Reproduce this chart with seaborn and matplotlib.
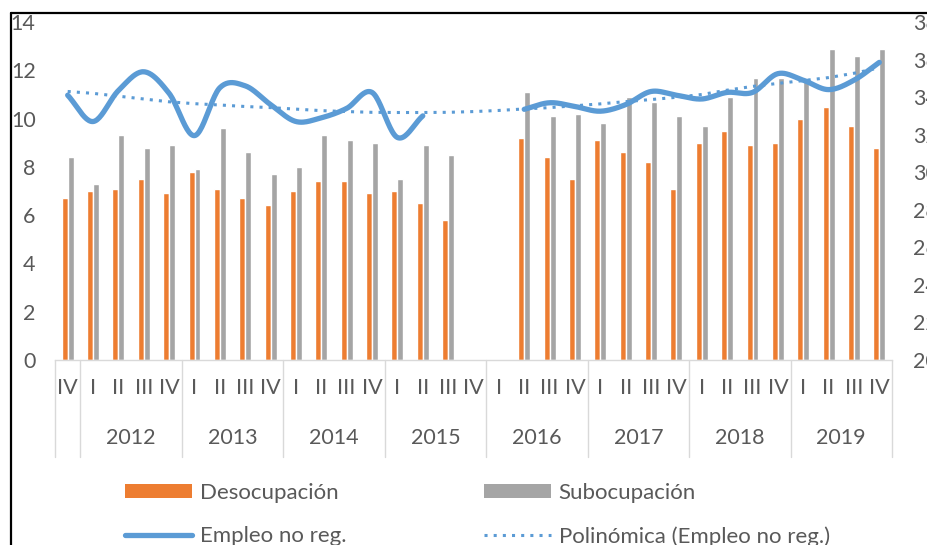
import numpy as np
import pandas as pd
import matplotlib
matplotlib.use("Agg")
import matplotlib.pyplot as plt
import matplotlib.transforms as mtransforms
from matplotlib.patches import Patch
from matplotlib.lines import Line2D
import seaborn as sns

nan = np.nan

# ---------------- data ----------------
years = ["2011", "2012", "2013", "2014", "2015", "2016", "2017", "2018", "2019"]
quarters = ["I", "II", "III", "IV"]
cat_year = ["2011"] + [y for y in years[1:] for _ in range(4)]
cat_quarter = ["IV"] + quarters * 8
year_labels = ["", "2012", "2013", "2014", "2015", "2016", "2017", "2018", "2019"]

desocupacion = [6.7, 7.0, 7.1, 7.5, 6.9, 7.8, 7.1, 6.7, 6.4, 7.0, 7.4, 7.4, 6.9,
                7.0, 6.5, 5.8, nan, nan, 9.2, 8.4, 7.5, 9.1, 8.6, 8.2, 7.1,
                9.0, 9.5, 8.9, 9.0, 10.0, 10.5, 9.7, 8.8]
subocupacion = [8.4, 7.3, 9.3, 8.8, 8.9, 7.9, 9.6, 8.6, 7.7, 8.0, 9.3, 9.1, 9.0,
                7.5, 8.9, 8.5, nan, nan, 11.1, 10.1, 10.2, 9.8, 10.9, 10.7, 10.1,
                9.7, 10.9, 11.7, 11.7, 11.7, 12.9, 12.6, 12.9]
empleo_no_reg = [34.1, 32.7, 34.35, 35.35, 34.2, 31.95, 34.5, 34.6, 33.6, 32.7,
                 32.9, 33.4, 34.25, 31.85, 33.0, nan, nan, nan, 33.35, 33.7,
                 33.5, 33.25, 33.6, 34.3, 34.1, 33.9, 34.25, 34.25, 35.25,
                 34.9, 34.4, 34.9, 35.85]
polinomica = [34.3, 34.2, 34.05, 33.9, 33.75, 33.65, 33.58, 33.5, 33.44, 33.36,
              33.28, 33.23, 33.19, 33.18, 33.18, 33.19, 33.23, 33.29, 33.37,
              33.44, 33.54, 33.64, 33.76, 33.87, 33.99, 34.14, 34.37, 34.57,
              34.73, 34.88, 35.04, 35.27, 35.56]

cats = [f"{y}-{q}" for y, q in zip(cat_year, cat_quarter)]
n = len(cats)

ORANGE = "#ED7D31"
GRAY = "#A5A5A5"
BLUE = "#5B9BD5"
TXT = "#595959"
AXC = "#D9D9D9"
FS = 15.5

sns.set_theme(style="white")
plt.rcParams["font.family"] = ["Lato", "DejaVu Sans"]

fig = plt.figure(figsize=(9.27, 5.45), dpi=100)
W, H = 927, 545
ax_l, ax_r, ax_t, ax_b = 55, 892, 22, 360
ax = fig.add_axes([ax_l / W, 1 - ax_b / H, (ax_r - ax_l) / W, (ax_b - ax_t) / H])

df = pd.DataFrame({
    "cat": cats * 2,
    "serie": ["Desocupación"] * n + ["Subocupación"] * n,
    "valor": desocupacion + subocupacion,
})
sns.barplot(data=df, x="cat", y="valor", hue="serie", order=cats,
            hue_order=["Desocupación", "Subocupación"],
            palette=[ORANGE, GRAY], width=0.47, saturation=1,
            legend=False, ax=ax)

ax.set_xlim(-0.5, n - 0.5)
ax.set_ylim(0, 14)
ax.set_yticks(np.arange(0, 15, 2))
ax.set_xlabel("")
ax.set_ylabel("")
for s in ["top", "right", "left"]:
    ax.spines[s].set_visible(False)
ax.spines["bottom"].set_color(AXC)
ax.spines["bottom"].set_linewidth(1.0)
ax.set_xticks(range(n))
ax.set_xticklabels(cat_quarter)
ax.tick_params(axis="x", length=0, pad=13, labelsize=FS, labelcolor=TXT)
ax.tick_params(axis="y", length=0, pad=14, labelsize=FS, labelcolor=TXT)

# second axis
ax2 = ax.twinx()
ax2.set_ylim(20, 38)
ax2.set_yticks(np.arange(20, 39, 2))
for s in ["top", "right", "left", "bottom"]:
    ax2.spines[s].set_visible(False)
ax2.tick_params(axis="y", length=0, pad=15, labelsize=FS, labelcolor=TXT)
ax2.set_ylabel("")


def catmull(xs, ys, steps=24):
    px, py = [], []
    m = len(xs)
    for i in range(m - 1):
        x0, y0 = (xs[i - 1], ys[i - 1]) if i > 0 else (2 * xs[i] - xs[i + 1], 2 * ys[i] - ys[i + 1])
        x1, y1 = xs[i], ys[i]
        x2, y2 = xs[i + 1], ys[i + 1]
        x3, y3 = (xs[i + 2], ys[i + 2]) if i + 2 < m else (2 * x2 - x1, 2 * y2 - y1)
        t = np.linspace(0, 1, steps, endpoint=(i == m - 2))
        for (a, b, c, d, out) in ((x0, x1, x2, x3, px), (y0, y1, y2, y3, py)):
            out.extend(0.5 * ((2 * b) + (-a + c) * t + (2 * a - 5 * b + 4 * c - d) * t ** 2
                              + (-a + 3 * b - 3 * c + d) * t ** 3))
    return px, py


emp = np.array(empleo_no_reg, dtype=float)
idx = np.arange(n)
valid = ~np.isnan(emp)
segments = []
cur = []
for i in idx:
    if valid[i]:
        cur.append(i)
    elif cur:
        segments.append(cur)
        cur = []
if cur:
    segments.append(cur)
for seg in segments:
    sx, sy = catmull([float(i) for i in seg], [emp[i] for i in seg])
    sns.lineplot(x=sx, y=sy, sort=False, estimator=None, color=BLUE,
                 linewidth=3.8, ax=ax2, solid_capstyle="round")

sns.lineplot(x=idx, y=polinomica, sort=False, estimator=None, color=BLUE,
             linewidth=2.2, linestyle=(0, (1, 2.0)), ax=ax2)

# multi-level category axis
trans = mtransforms.blended_transform_factory(ax.transData, ax.transAxes)
sep_bottom = -(457 - 360) / (ax_b - ax_t)
bounds = [-0.5, 0.5] + [0.5 + 4 * k for k in range(1, 9)]
for b in bounds:
    ax.plot([b, b], [0, sep_bottom], transform=trans, color=AXC, lw=1.0, clip_on=False)
year_y = -(438 - 360) / (ax_b - ax_t)
for k, lab in enumerate(year_labels):
    if not lab:
        continue
    cx = 0.5 + 4 * (k - 1) + 2.0
    ax.text(cx, year_y, lab, transform=trans, ha="center", va="center",
            fontsize=FS, color=TXT)

# legend
LFS = 16
handles = [Patch(facecolor=ORANGE, edgecolor="none"),
           Line2D([0], [0], color=BLUE, lw=3.8),
           Patch(facecolor=GRAY, edgecolor="none"),
           Line2D([0], [0], color=BLUE, lw=2.2, linestyle=(0, (1, 2.0)))]
labels = ["Desocupación", "Empleo no reg.", "Subocupación", "Polinómica (Empleo no reg.)"]
leg = fig.legend(handles, labels, ncol=2, loc="upper left",
                 bbox_to_anchor=(105 / W, 1 - 463 / H), frameon=False,
                 fontsize=LFS, handlelength=3.0, handleheight=0.6,
                 columnspacing=6.2, labelspacing=1.05, handletextpad=0.36,
                 labelcolor=TXT)

# outer border (top and left)
fig.add_artist(Line2D([11 / W, 1], [1 - 13 / H, 1 - 13 / H], color="black", lw=1.6,
                      transform=fig.transFigure))
fig.add_artist(Line2D([11 / W, 11 / W], [0, 1 - 13 / H], color="black", lw=1.6,
                      transform=fig.transFigure))

fig.savefig("out.png", dpi=100)
